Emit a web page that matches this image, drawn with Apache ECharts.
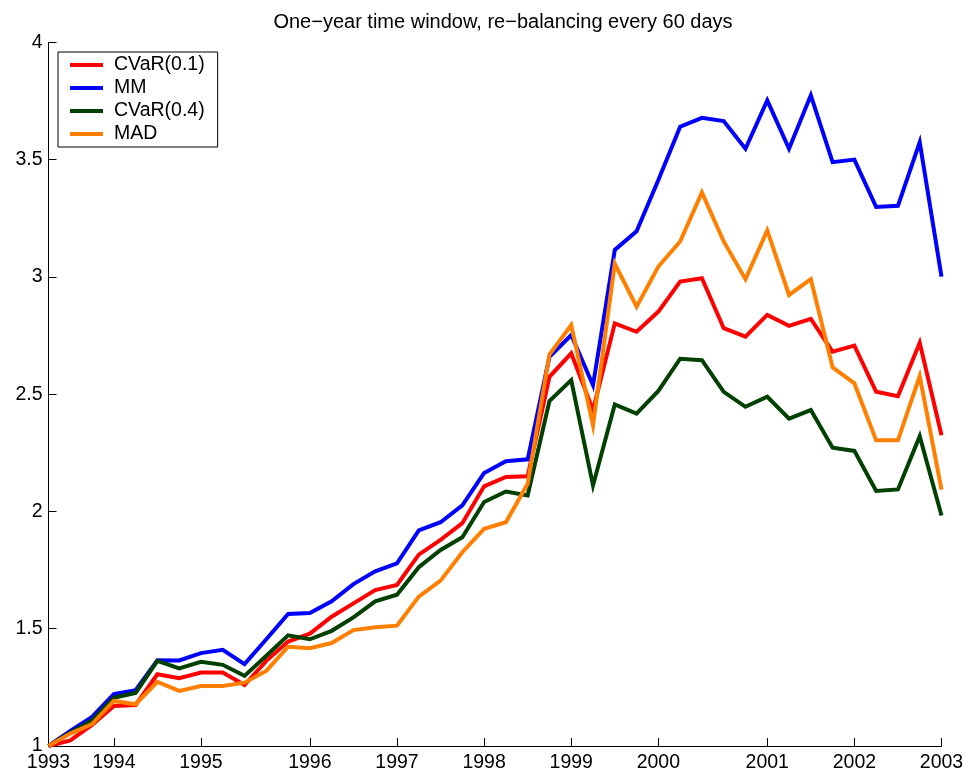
<!DOCTYPE html>
<html>
<head>
<meta charset="utf-8">
<script src="https://cdn.jsdelivr.net/npm/echarts@6/dist/echarts.min.js"></script>
<style>
  html, body { margin: 0; padding: 0; background: #fff; }
  #chart { width: 965px; height: 774px; }
</style>
</head>
<body>
<div id="chart"></div>
<script>
// Portfolio value at each re-balancing date (index 0..41), starting from 1
const cvar01 = [1, 1.024, 1.09, 1.171, 1.175, 1.306, 1.289, 1.313, 1.313, 1.26,
  1.363, 1.445, 1.479, 1.551, 1.608, 1.665, 1.687, 1.816, 1.879, 1.95,
  2.107, 2.147, 2.15, 2.574, 2.674, 2.432, 2.802, 2.766, 2.852, 2.98,
  2.994, 2.781, 2.745, 2.838, 2.791, 2.821, 2.681, 2.707, 2.51, 2.491,
  2.719, 2.325];
const mm = [1, 1.064, 1.124, 1.221, 1.238, 1.366, 1.365, 1.396, 1.41, 1.349,
  1.455, 1.563, 1.567, 1.617, 1.69, 1.745, 1.779, 1.919, 1.954, 2.026,
  2.164, 2.214, 2.222, 2.659, 2.752, 2.538, 3.115, 3.194, 3.413, 3.64,
  3.678, 3.664, 3.546, 3.752, 3.546, 3.774, 3.489, 3.5, 3.298, 3.303,
  3.574, 3.001];
const cvar04 = [1, 1.057, 1.11, 1.206, 1.226, 1.363, 1.331, 1.359, 1.346, 1.299,
  1.385, 1.472, 1.455, 1.491, 1.548, 1.617, 1.645, 1.762, 1.836, 1.89,
  2.04, 2.085, 2.068, 2.471, 2.56, 2.111, 2.456, 2.417, 2.514, 2.651,
  2.645, 2.51, 2.446, 2.489, 2.396, 2.432, 2.272, 2.258, 2.087, 2.094,
  2.321, 1.983];
const mad = [1, 1.053, 1.093, 1.192, 1.178, 1.273, 1.235, 1.256, 1.256, 1.27,
  1.32, 1.423, 1.417, 1.439, 1.494, 1.506, 1.513, 1.637, 1.705, 1.826,
  1.926, 1.954, 2.118, 2.669, 2.795, 2.368, 3.056, 2.873, 3.044, 3.151,
  3.36, 3.151, 2.99, 3.198, 2.923, 2.99, 2.614, 2.546, 2.303, 2.303,
  2.577, 2.093];

// First re-balancing date of each year, as a date index, and its label
const yearTickIndex = [0, 3, 7, 12, 16, 20, 24, 28, 33, 37, 41];
const yearTickLabel = ['1993', '1994', '1995', '1996', '1997', '1998', '1999', '2000', '2001', '2002', '2003'];

const seriesNames = ['CVaR(0.1)', 'MM', 'CVaR(0.4)', 'MAD'];
const seriesValues = [cvar01, mm, cvar04, mad];
const seriesColors = ['#ff0000', '#0000ff', '#004000', '#ff8000'];

const FONT = '"Liberation Sans", Arial, Helvetica, sans-serif';

const chart = echarts.init(document.getElementById('chart'), null, { renderer: 'canvas' });

chart.setOption({
  animation: false,
  backgroundColor: '#ffffff',
  title: {
    text: 'One\u2212year time window, re\u2212balancing every 60 days',
    left: 498,
    textAlign: 'center',
    top: 7,
    textStyle: { fontFamily: FONT, fontSize: 20, fontWeight: 'normal', color: '#000' }
  },
  legend: {
    orient: 'vertical',
    left: 58,
    top: 52,
    padding: [3, 13, 3, 12],
    itemGap: 3,
    itemWidth: 33,
    itemHeight: 4,
    icon: 'rect',
    borderColor: '#000',
    borderWidth: 1,
    backgroundColor: '#fff',
    textStyle: { fontFamily: FONT, fontSize: 19.5, color: '#000', lineHeight: 20, padding: [0, 0, 0, 6] },
    data: seriesNames
  },
  grid: {
    left: 48.5,
    right: 23.5,
    top: 42.3,
    bottom: 28,
    containLabel: false,
    outerBoundsMode: 'none'
  },
  xAxis: {
    type: 'value',
    min: 0,
    max: yearTickIndex[yearTickIndex.length - 1],
    splitLine: { show: false },
    axisLine: { show: true, onZero: false, lineStyle: { color: '#000', width: 1 } },
    axisTick: { show: true, inside: true, length: 8, customValues: yearTickIndex, lineStyle: { color: '#000' } },
    axisLabel: {
      show: true,
      customValues: yearTickIndex,
      margin: 7,
      fontFamily: FONT,
      fontSize: 19.5,
      color: '#000',
      formatter: function (v) {
        const k = yearTickIndex.indexOf(Math.round(v));
        return k >= 0 ? yearTickLabel[k] : '';
      }
    }
  },
  yAxis: {
    type: 'value',
    min: 1,
    max: 4,
    interval: 0.5,
    splitLine: { show: false },
    axisLine: { show: true, lineStyle: { color: '#000', width: 1 } },
    axisTick: { show: true, inside: true, length: 8, lineStyle: { color: '#000' } },
    axisLabel: { margin: 6, fontFamily: FONT, fontSize: 19.5, color: '#000' }
  },
  series: seriesNames.map(function (name, s) {
    return {
      name: name,
      type: 'line',
      showSymbol: false,
      symbol: 'none',
      color: seriesColors[s],
      lineStyle: { width: 4, color: seriesColors[s], join: 'miter' },
      data: seriesValues[s].map(function (v, i) { return [i, v]; })
    };
  })
});
</script>
</body>
</html>
